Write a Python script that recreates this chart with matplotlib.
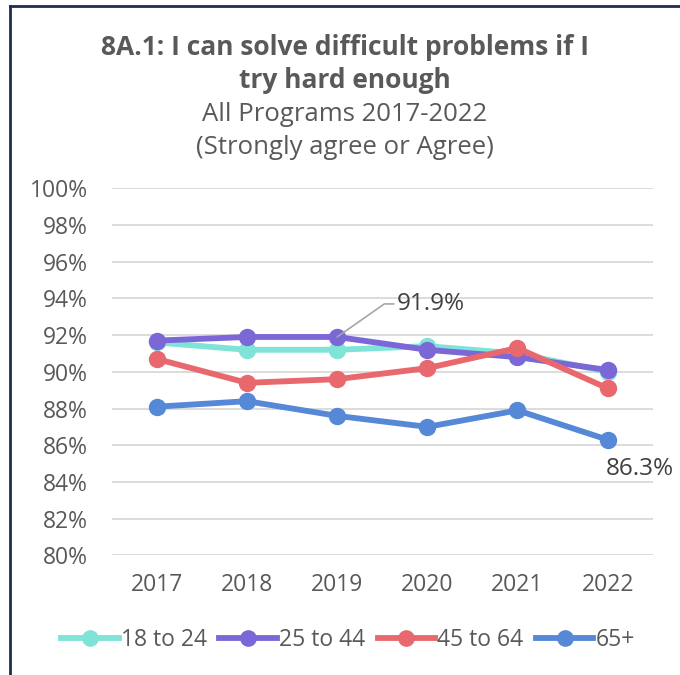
import matplotlib
matplotlib.use("Agg")
import matplotlib.pyplot as plt
from matplotlib.lines import Line2D

plt.rcParams['font.family'] = ['Open Sans', 'DejaVu Sans']

years = ["2017", "2018", "2019", "2020", "2021", "2022"]
series_names = ["18 to 24", "25 to 44", "45 to 64", "65+"]
v_18_24 = [91.6, 91.2, 91.2, 91.4, 91.0, 90.0]
v_25_44 = [91.7, 91.9, 91.9, 91.2, 90.8, 90.1]
v_45_64 = [90.7, 89.4, 89.6, 90.2, 91.3, 89.1]
v_65 = [88.1, 88.4, 87.6, 87.0, 87.9, 86.3]
colors = ["#7FE3D8", "#7B68D6", "#E8686E", "#5588D6"]
y_ticks = [80, 82, 84, 86, 88, 90, 92, 94, 96, 98, 100]

TXT = "#595959"

fig = plt.figure(figsize=(6.8, 6.75), dpi=100)
fig.patch.set_facecolor("white")
ax = fig.add_axes([0.1643, 0.1773, 0.7956, 0.5437])

x = list(range(len(years)))
all_series = [v_18_24, v_25_44, v_45_64, v_65]
for vals, c, name in zip(all_series, colors, series_names):
    ax.plot(x, vals, color=c, lw=4.2, marker='o', markersize=11.5,
            solid_capstyle='round', label=name, zorder=3)

ax.set_xlim(-0.5, len(years) - 0.5)
ax.set_ylim(80, 100)
ax.set_yticks(y_ticks)
ax.set_yticklabels([f"{t}%" for t in y_ticks])
ax.set_xticks(x)
ax.set_xticklabels(years)
ax.tick_params(axis='both', length=0, labelsize=16.5, labelcolor=TXT)
ax.tick_params(axis='x', pad=13)
ax.tick_params(axis='y', pad=17)
ax.grid(axis='y', color="#D9D9D9", lw=1.3)
ax.set_axisbelow(True)
for s in ax.spines.values():
    s.set_visible(False)

# data labels
ax.annotate(f"{v_25_44[2]}%", xy=(x[2], v_25_44[2]), xytext=(x[2] + 0.66, 93.7),
            fontsize=17.5, color="#404040", va='center', ha='left',
            arrowprops=dict(arrowstyle='-', color="#A6A6A6", lw=1.2,
                            connectionstyle="angle,angleA=180,angleB=35,rad=0",
                            shrinkA=0, shrinkB=0))
ax.annotate(f"{v_65[5]}%", xy=(x[5], v_65[5]), xytext=(-2, -29),
            textcoords='offset pixels', fontsize=17.5, color="#404040",
            ha='left', va='center')

# titles
fig.text(0.507, 0.929, "8A.1: I can solve difficult problems if I", ha='center',
         va='center', fontsize=19, fontweight='bold', color=TXT)
fig.text(0.507, 0.881, "try hard enough", ha='center', va='center',
         fontsize=19, fontweight='bold', color=TXT)
fig.text(0.507, 0.831, "All Programs 2017-2022", ha='center', va='center',
         fontsize=18.5, color=TXT)
fig.text(0.507, 0.782, "(Strongly agree or Agree)", ha='center', va='center',
         fontsize=18.5, color=TXT)

# legend
handles = [Line2D([0], [0], color=c, lw=4.2, marker='o', markersize=11)
           for c in colors]
fig.legend(handles, series_names, loc='center', bbox_to_anchor=(0.512, 0.052),
           ncol=4, frameon=False, fontsize=16.5, labelcolor=TXT,
           handlelength=2.5, handletextpad=0.1, columnspacing=0.55)

# frame lines of slide box
fig.add_artist(Line2D([9.5 / 680, 9.5 / 680], [0, 1 - 5.7 / 675],
                      transform=fig.transFigure, color="#1F2D4D", lw=2))
fig.add_artist(Line2D([9.5 / 680, 1], [1 - 5.7 / 675, 1 - 5.7 / 675],
                      transform=fig.transFigure, color="#1F2D4D", lw=2))

fig.savefig("out.png", dpi=100, facecolor="white")
